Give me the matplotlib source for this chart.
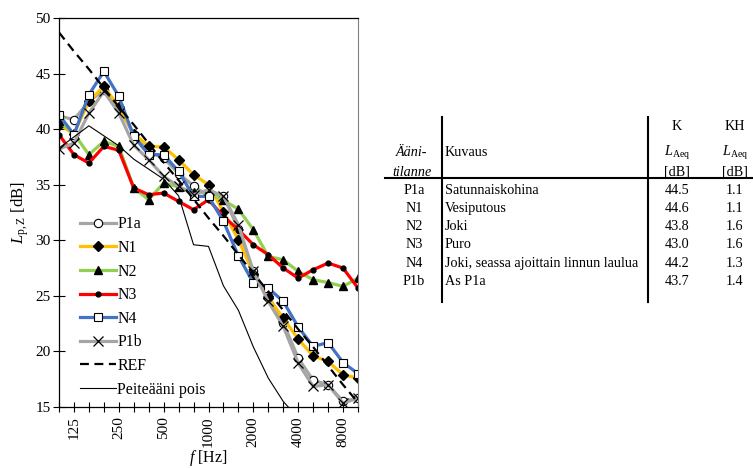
import numpy as np
import matplotlib
matplotlib.use("Agg")
import matplotlib.pyplot as plt
from matplotlib.lines import Line2D

plt.rcParams['font.family'] = ['Liberation Serif', 'DejaVu Serif']
plt.rcParams['mathtext.fontset'] = 'custom'
plt.rcParams['mathtext.rm'] = 'Liberation Serif'
plt.rcParams['mathtext.it'] = 'Liberation Serif:italic'

# 1/3-octave bands
freqs = [100, 125, 160, 200, 250, 315, 400, 500, 630, 800, 1000,
         1250, 1600, 2000, 2500, 3150, 4000, 5000, 6300, 8000, 10000]
tick_labels = ['125', '250', '500', '1000', '2000', '4000', '8000']

p1a = [41.2, 40.85, 42.5, 43.5, 42.0, 39.5, 38.0, 37.4, 36.0, 34.9, 33.95,
       34.0, 31.0, 27.2, 25.0, 22.6, 19.4, 17.4, 17.0, 15.5, 15.8]
n1 = [40.4, 39.6, 42.5, 43.85, 42.0, 39.6, 38.45, 38.4, 37.25, 35.9, 35.0,
      32.55, 30.05, 27.0, 24.8, 23.0, 21.1, 19.6, 19.1, 17.9, 17.6]
n2 = [40.7, 39.6, 37.7, 38.9, 38.45, 34.7, 33.65, 35.15, 34.8, 34.3, 34.3,
      33.6, 32.8, 30.95, 28.55, 28.25, 27.2, 26.45, 26.2, 25.85, 26.6]
n3 = [39.5, 37.7, 36.95, 38.45, 38.1, 34.7, 34.1, 34.25, 33.5, 32.75, 33.65,
      32.15, 30.95, 29.6, 28.7, 27.5, 26.6, 27.35, 27.95, 27.5, 25.7]
n4 = [41.3, 39.5, 43.1, 45.2, 42.95, 39.35, 37.7, 37.7, 36.2, 33.95, 33.95,
      31.7, 28.6, 26.15, 25.7, 24.5, 22.2, 20.45, 20.8, 19.0, 18.0]
p1b = [38.2, 38.75, 41.45, 43.4, 41.45, 38.55, 37.25, 35.75, 34.85, 34.1, 34.55,
       33.95, 31.4, 27.2, 24.5, 22.25, 18.95, 16.85, 17.0, 15.35, 15.8]
ref = [48.7, 47.0, 45.4, 43.7, 42.0, 40.4, 38.7, 37.0, 35.4, 33.7, 32.0,
       30.4, 28.7, 27.0, 25.4, 23.7, 22.0, 20.4, 18.7, 17.0, 15.4]
pois = [38.3, 39.3, 40.3, 39.4, 38.5, 37.3, 36.4, 35.5, 34.0, 29.6, 29.45,
        25.9, 23.7, 20.4, 17.6, 15.5, 14.0, 13.0, 12.0, 11.0, 10.0]

# table data
tab_id = ['P1a', 'N1', 'N2', 'N3', 'N4', 'P1b']
tab_desc = ['Satunnaiskohina', 'Vesiputous', 'Joki', 'Puro',
            'Joki, seassa ajoittain linnun laulua', 'As P1a']
tab_k = ['44.5', '44.6', '43.8', '43.0', '44.2', '43.7']
tab_kh = ['1.1', '1.1', '1.6', '1.6', '1.3', '1.4']

W, H = 753, 468
fig = plt.figure(figsize=(W / 100, H / 100), dpi=100)
ax = fig.add_axes([59 / W, 1 - 407 / H, 299 / W, 389 / H])

x = np.arange(len(freqs))
ax.plot(x, p1a, color='#A5A5A5', lw=2.3, marker='o', ms=6, mfc='white',
        mec='black', mew=0.8, label='P1a')
ax.plot(x, n1, color='#FFC000', lw=2.3, marker='D', ms=5.5, mfc='black',
        mec='black', label='N1')
ax.plot(x, n2, color='#92D050', lw=2.3, marker='^', ms=6, mfc='black',
        mec='black', label='N2')
ax.plot(x, n3, color='#FF0000', lw=2.3, marker='o', ms=3.5, mfc='black',
        mec='black', label='N3')
ax.plot(x, n4, color='#4472C4', lw=2.3, marker='s', ms=6, mfc='white',
        mec='black', mew=0.8, label='N4')
ax.plot(x, p1b, color='#A5A5A5', lw=2.3, marker='x', ms=7, mec='black',
        mew=0.9, label='P1b')
ax.plot(x, ref, color='black', lw=1.6, ls=(0, (4, 2.5)), label='REF')
ax.plot(x, pois, color='black', lw=0.8, label='Peiteääni pois')

ax.set_xlim(0, len(freqs) - 1)
ax.set_ylim(15, 50)
ax.set_yticks(np.arange(15, 51, 5))
ax.set_xticks(x, minor=True)
ax.set_xticks([freqs.index(int(t)) for t in tick_labels])
ax.set_xticklabels(tick_labels, rotation=90)
ax.tick_params(axis='both', which='both', direction='inout', labelsize=11,
               width=0.8, color='black')
ax.tick_params(axis='x', which='major', length=7, pad=3)
ax.tick_params(axis='x', which='minor', length=7)
ax.tick_params(axis='y', length=8, pad=2)
for s in ['left', 'bottom', 'top']:
    ax.spines[s].set_linewidth(0.9)
ax.spines['right'].set_color('#808080')

ax.set_ylabel(r'$L_{\mathrm{p,Z}}$ [dB]', fontsize=12, labelpad=3)
ax.set_xlabel(r'$f$ [Hz]', fontsize=11.5, labelpad=1)

ax.legend(loc='center left', bbox_to_anchor=(80 / W, 1 - 307 / H),
          bbox_transform=fig.transFigure, frameon=False, fontsize=11.4,
          handlelength=2.3, handletextpad=0.05, labelspacing=0.48,
          borderpad=0, borderaxespad=0, numpoints=1)


def fpos(px, py):
    return px / W, 1 - py / H


# table
fs = 10.2
col1, col2, col3, col4 = 412, 445, 677, 735
fig.text(*fpos(col3, 127), 'K', ha='center', va='center', fontsize=fs)
fig.text(*fpos(col4, 127), 'KH', ha='center', va='center', fontsize=fs)
fig.text(*fpos(col1, 153), 'Ääni-', ha='center', va='center', fontsize=fs,
         style='italic')
fig.text(*fpos(col2, 153), 'Kuvaus', ha='left', va='center', fontsize=fs)
fig.text(*fpos(col3, 153), r'$L_{\mathrm{Aeq}}$', ha='center', va='center',
         fontsize=fs)
fig.text(*fpos(col4, 153), r'$L_{\mathrm{Aeq}}$', ha='center', va='center',
         fontsize=fs)
fig.text(*fpos(col1, 172), 'tilanne', ha='center', va='center', fontsize=fs,
         style='italic')
fig.text(*fpos(col3, 172), '[dB]', ha='center', va='center', fontsize=fs)
fig.text(*fpos(col4, 172), '[dB]', ha='center', va='center', fontsize=fs)

row0, dy = 190, 18.3
for i in range(len(tab_id)):
    ry = row0 + i * dy
    fig.text(*fpos(col1 + 2, ry), tab_id[i], ha='center', va='center', fontsize=fs)
    fig.text(*fpos(col2, ry), tab_desc[i], ha='left', va='center', fontsize=fs)
    fig.text(*fpos(col3, ry), tab_k[i], ha='center', va='center', fontsize=fs)
    fig.text(*fpos(col4, ry), tab_kh[i], ha='center', va='center', fontsize=fs)

for vx in [441.5, 648]:
    fig.add_artist(Line2D([vx / W, vx / W], [1 - 117 / H, 1 - 302 / H],
                          transform=fig.transFigure, color='black', lw=1.5))
fig.add_artist(Line2D([385 / W, 752 / W], [1 - 178 / H, 1 - 178 / H],
                      transform=fig.transFigure, color='black', lw=1.5))

fig.savefig('out.png', dpi=100)
